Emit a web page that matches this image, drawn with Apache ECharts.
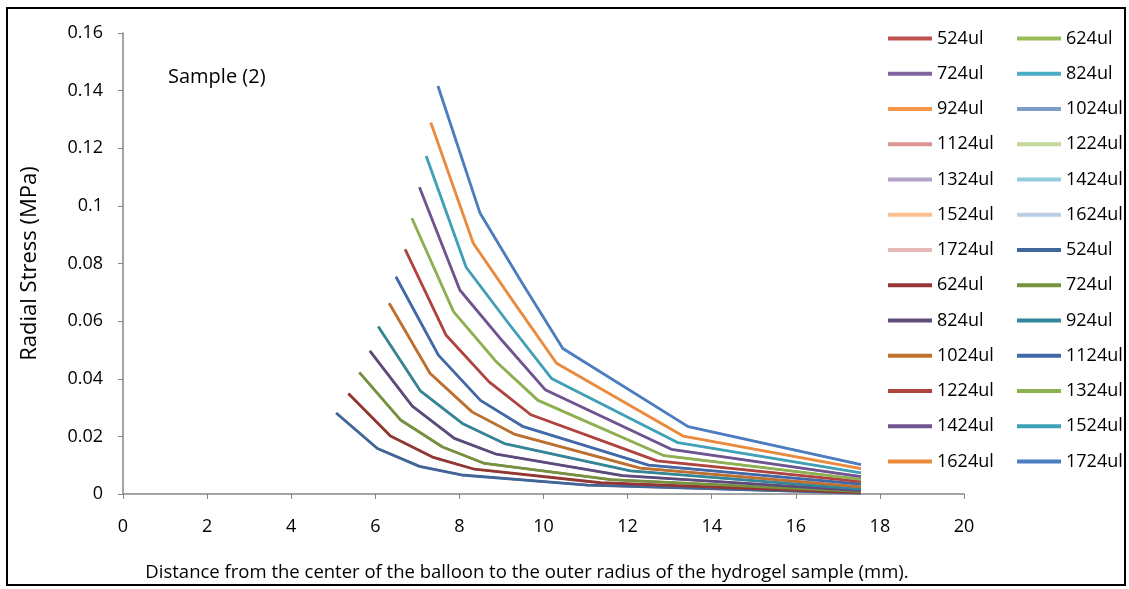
<!DOCTYPE html>
<html>
<head>
<meta charset="utf-8">
<script src="https://cdn.jsdelivr.net/npm/echarts@6/dist/echarts.min.js"></script>
<style>html,body{margin:0;padding:0;background:#fff}#chart{width:1129px;height:589px}</style>
</head>
<body>
<div id="chart"></div>
<script>
// ---- data (distance in mm, radial stress in MPa) ----
const volumes = ['524ul','624ul','724ul','824ul','924ul','1024ul','1124ul','1224ul','1324ul','1424ul','1524ul','1624ul','1724ul'];
const xTicks = [0, 2, 4, 6, 8, 10, 12, 14, 16, 18, 20];
const yTicks = [0, 0.02, 0.04, 0.06, 0.08, 0.1, 0.12, 0.14, 0.16];

const r524  = [5.07, 6.05, 7.05, 8.05, 11.05, 17.55];
const s524  = [0.0281, 0.0158, 0.0096, 0.0066, 0.0031, 0.0003];
const r624  = [5.36, 6.36, 7.36, 8.36, 11.36, 17.55];
const s624  = [0.0349, 0.0201, 0.0128, 0.0086, 0.0039, 0.0005];
const r724  = [5.62, 6.60, 7.60, 8.60, 11.60, 17.55];
const s724  = [0.0422, 0.0257, 0.0163, 0.0106, 0.0050, 0.0008];
const r824  = [5.87, 6.88, 7.88, 8.88, 11.88, 17.55];
const s824  = [0.0497, 0.0305, 0.0193, 0.0138, 0.0064, 0.0012];
const r924  = [6.07, 7.07, 8.07, 9.07, 12.07, 17.55];
const s924  = [0.0581, 0.0358, 0.0245, 0.0175, 0.0080, 0.0017];
const r1024 = [6.33, 7.30, 8.30, 9.30, 12.30, 17.55];
const s1024 = [0.0662, 0.0419, 0.0285, 0.0208, 0.0090, 0.0025];
const r1124 = [6.49, 7.50, 8.50, 9.50, 12.50, 17.55];
const s1124 = [0.0754, 0.0482, 0.0325, 0.0235, 0.0100, 0.0034];
const r1224 = [6.71, 7.68, 8.70, 9.70, 12.70, 17.55];
const s1224 = [0.0849, 0.0552, 0.0390, 0.0275, 0.0115, 0.0043];
const r1324 = [6.87, 7.86, 8.87, 9.87, 12.87, 17.55];
const s1324 = [0.0957, 0.0633, 0.0460, 0.0325, 0.0133, 0.0051];
const r1424 = [7.05, 8.01, 9.03, 10.04, 13.04, 17.55];
const s1424 = [0.1065, 0.0708, 0.0530, 0.0362, 0.0155, 0.0060];
const r1524 = [7.21, 8.16, 9.18, 10.19, 13.20, 17.55];
const s1524 = [0.1173, 0.0787, 0.0590, 0.0401, 0.0178, 0.0073];
const r1624 = [7.32, 8.33, 9.32, 10.31, 13.32, 17.55];
const s1624 = [0.1289, 0.0870, 0.0660, 0.0454, 0.0201, 0.0088];
const r1724 = [7.49, 8.49, 9.48, 10.46, 13.44, 17.55];
const s1724 = [0.1416, 0.0975, 0.0735, 0.0505, 0.0234, 0.0102];

const radii    = [r524, r624, r724, r824, r924, r1024, r1124, r1224, r1324, r1424, r1524, r1624, r1724];
const stresses = [s524, s624, s724, s824, s924, s1024, s1124, s1224, s1324, s1424, s1524, s1624, s1724];

// colours: first (hidden) set and second (visible) set
const colorsA = ['#C0504D','#9BBB59','#8064A2','#4BACC6','#F79646','#7F9CC8','#D99694','#C3D69B','#B3A2C7','#93CDDD','#FAC090','#B9CDE5','#E6B9B8'];
const colorsB = ['#3F679A','#943634','#76923C','#5F4A7A','#31869B','#C0702D','#4069A9','#B0433F','#8EB04F','#71548F','#3FA1B8','#EC8A3C','#4A7EC0'];

const series = [];
const legendNames = [];
function pts(i){ return radii[i].map((x, k) => [x, stresses[i][k]]); }
volumes.forEach((v, i) => {
  series.push({ name: v, type: 'line', data: pts(i), showSymbol: false, symbol: 'none',
    lineStyle: { width: 2.2, color: colorsA[i] }, itemStyle: { color: colorsA[i] }, z: 1 });
  legendNames.push(v);
});
volumes.forEach((v, i) => {
  series.push({ name: v + ' ', type: 'line', data: pts(i), showSymbol: false, symbol: 'none',
    lineStyle: { width: 2.8, color: colorsB[i] }, itemStyle: { color: colorsB[i] }, z: 3 });
  legendNames.push(v + ' ');
});
// legend laid out row by row in two columns
const leftColumn  = legendNames.filter((n, i) => i % 2 === 0);
const rightColumn = legendNames.filter((n, i) => i % 2 === 1);

const FONT = 'Open Sans';
function legendCol(data, left) {
  return {
    data: data, orient: 'vertical', left: left, top: 29, padding: 0,
    itemGap: 16.25, itemWidth: 44, itemHeight: 4, icon: 'rect',
    formatter: n => n.trim(),
    textStyle: { fontFamily: FONT, fontSize: 18, color: '#000', lineHeight: 19 },
    selectedMode: false
  };
}

const chart = echarts.init(document.getElementById('chart'), null, { renderer: 'canvas' });
chart.setOption({
  animation: false,
  backgroundColor: '#ffffff',
  textStyle: { fontFamily: FONT },
  grid: { left: 123, right: 165, top: 33, bottom: 95, containLabel: false },
  xAxis: {
    type: 'value', min: 0, max: 20, interval: 2,
    name: 'Distance from the center of the balloon to the outer radius of the hydrogel sample (mm).',
    nameLocation: 'middle', nameGap: 69,
    nameTextStyle: { fontFamily: FONT, fontSize: 18.5, color: '#000', padding: [0, 33, 0, 0] },
    axisLine: { show: true, lineStyle: { color: '#868686', width: 1.5 } },
    axisTick: { show: true, length: 5, lineStyle: { color: '#868686' } },
    axisLabel: { fontFamily: FONT, fontSize: 18, color: '#000', margin: 24,
      formatter: v => xTicks.includes(v) ? String(v) : '' },
    splitLine: { show: false }
  },
  yAxis: {
    type: 'value', min: 0, max: 0.16, interval: 0.02,
    name: 'Radial Stress (MPa)', nameLocation: 'middle', nameGap: 82, nameRotate: 90,
    nameTextStyle: { fontFamily: FONT, fontSize: 22, color: '#000' },
    axisLine: { show: true, lineStyle: { color: '#868686', width: 1.5 } },
    axisTick: { show: true, length: 5, lineStyle: { color: '#868686' } },
    axisLabel: { fontFamily: FONT, fontSize: 18, color: '#000', margin: 20,
      formatter: v => { const t = yTicks.find(y => Math.abs(y - v) < 1e-9); return t === undefined ? '' : String(t); } },
    splitLine: { show: false }
  },
  legend: [ legendCol(leftColumn, 888), legendCol(rightColumn, 1017) ],
  graphic: [
    { type: 'rect', shape: { x: 7, y: 8, width: 1118, height: 577 },
      style: { fill: 'none', stroke: '#000', lineWidth: 2 }, silent: true, z: 100 },
    { type: 'text', left: 168, top: 67,
      style: { text: 'Sample (2)', fontFamily: FONT, fontSize: 20, fill: '#000' }, z: 100 }
  ],
  series: series
});
</script>
</body>
</html>
